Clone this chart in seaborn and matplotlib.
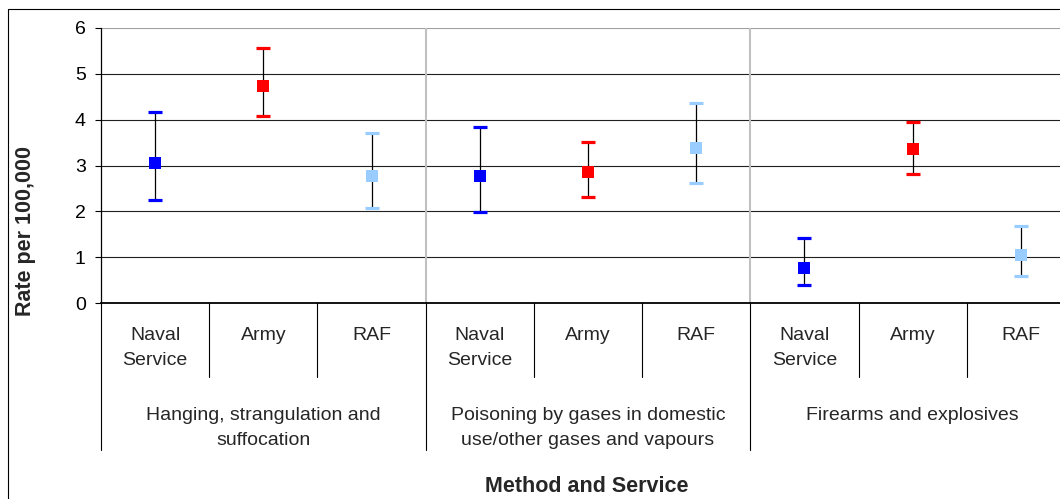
# Suicide rates by method and service, with 95% confidence intervals
import numpy as np
import pandas as pd
import matplotlib.pyplot as plt
import seaborn as sns

sns.set_style("white")
plt.rcParams['font.family'] = ['Liberation Sans', 'DejaVu Sans']

# Data
methods = ["Hanging, strangulation and\nsuffocation",
           "Poisoning by gases in domestic\nuse/other gases and vapours",
           "Firearms and explosives"]
services = ["Naval\nService", "Army", "RAF"]
rate = [3.05, 4.73, 2.77, 2.78, 2.85, 3.39, 0.76, 3.35, 1.05]
lower = [2.24, 4.08, 2.07, 1.99, 2.32, 2.61, 0.39, 2.82, 0.60]
upper = [4.17, 5.57, 3.72, 3.84, 3.51, 4.37, 1.42, 3.96, 1.67]
colors = ["#0000ff", "#ff0000", "#99ccff"]

df = pd.DataFrame({
    'pos': np.arange(9),
    'method': np.repeat(methods, 3),
    'service': services * 3,
    'rate': rate,
    'lower': lower,
    'upper': upper,
})
palette = dict(zip(services, colors))

fig = plt.figure(figsize=(10.6, 4.99), dpi=100)
ax = fig.add_axes([101 / 1060, 196 / 499, 974 / 1060, 275 / 499])

# Gridlines and group separators
ax.set_ylim(0, 6)
ax.set_xlim(-0.5, 8.5)
ax.set_yticks(range(7))
ax.set_xticks([])
ax.yaxis.grid(True, color='#202020', lw=0.8, zorder=0)
ax.get_ygridlines()[-1].set_color('#a0a0a0')
for x in [2.5, 5.5]:
    ax.axvline(x, color='#c0c0c0', lw=1.5, zorder=1)

# Error bars: black stems with coloured caps
ax.vlines(df.pos, df.lower, df.upper, color='black', lw=0.9, zorder=3)
for s, c in palette.items():
    sub = df[df.service == s]
    for col in ['lower', 'upper']:
        ax.plot(sub.pos, sub[col], ls='none', marker='_', ms=9.5, mew=2.3,
                color=c, zorder=4)

# Point estimates
sns.scatterplot(data=df, x='pos', y='rate', hue='service', palette=palette,
                marker='s', s=75, linewidth=0, legend=False, ax=ax, zorder=5)
ax.set_xlabel('')
ax.set_ylabel('')

for side in ['top', 'right']:
    ax.spines[side].set_visible(False)
ax.spines['left'].set_color('black')
ax.spines['left'].set_linewidth(0.9)
ax.spines['bottom'].set_color('black')
ax.spines['bottom'].set_linewidth(1.3)
ax.tick_params(axis='y', left=True, direction='out', length=4, width=0.8,
               pad=7, labelsize=14, colors='black')

# Two-level category axis below the plot
trans = ax.get_xaxis_transform()
for k in range(10):
    bottom = -0.535 if k % 3 == 0 else -0.269
    ax.plot([k - 0.5, k - 0.5], [0, bottom], transform=trans, color='black',
            lw=0.8, clip_on=False)
for i, s in enumerate(df.service):
    for j, line in enumerate(s.split('\n')):
        ax.text(i, [-0.1345, -0.2255][j], line, transform=trans, ha='center',
                va='baseline', fontsize=14)
for g, m in enumerate(methods):
    for j, line in enumerate(m.split('\n')):
        ax.text(3 * g + 1, [-0.4255, -0.5164][j], line, transform=trans,
                ha='center', va='baseline', fontsize=14)

fig.text(587 / 1060, 1 - 492 / 499, 'Method and Service', ha='center',
         va='baseline', fontsize=15.5, fontweight='bold')
fig.text(26 / 1060, 1 - 231 / 499, 'Rate per 100,000', rotation=90,
         ha='center', va='center', fontsize=15.5, fontweight='bold')

# Outer chart frame
fig.add_artist(plt.Rectangle((8 / 1060, -0.1), 1.2, 1.1 - 9 / 499,
                             fill=False, ec='black', lw=0.8,
                             transform=fig.transFigure))

fig.savefig('out.png', dpi=100)
